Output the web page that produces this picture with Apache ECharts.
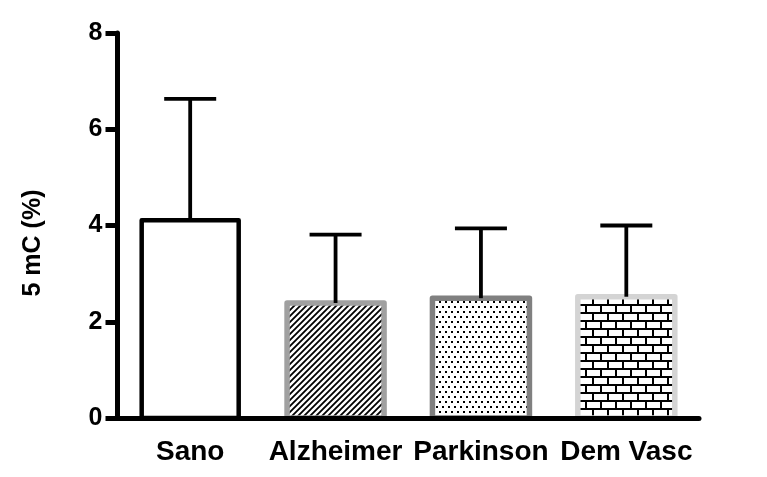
<!DOCTYPE html>
<html>
<head>
<meta charset="utf-8">
<script src="https://cdn.jsdelivr.net/npm/echarts@6/dist/echarts.min.js"></script>
<style>html,body{margin:0;padding:0;background:#fff}#c{width:767px;height:477px}</style>
</head>
<body>
<div id="c"></div>
<script>
// ---- data ----
var categories = ['Sano', 'Alzheimer', 'Parkinson', 'Dem Vasc'];
var means = [4.11, 2.39, 2.49, 2.52];
var sd = [2.52, 1.42, 1.45, 1.48];
var yTicks = [0, 2, 4, 6, 8];
var yTitle = '5 mC (%)';

// ---- patterns ----
function mk(w, h, draw) {
  var c = document.createElement('canvas');
  c.width = w; c.height = h;
  var g = c.getContext('2d');
  g.fillStyle = '#fff'; g.fillRect(0, 0, w, h);
  draw(g);
  return c;
}
var hatch = mk(6, 6, function (g) {
  g.strokeStyle = '#000'; g.lineWidth = 1.8;
  g.beginPath();
  g.moveTo(-1, 7); g.lineTo(7, -1);
  g.moveTo(-4, 4); g.lineTo(4, -4);
  g.moveTo(2, 10); g.lineTo(10, 2);
  g.stroke();
});
var dots = mk(6, 10, function (g) {
  g.fillStyle = '#000';
  g.fillRect(1, 1, 2, 2);
  g.fillRect(4, 6, 2, 2);
});
var bricks = mk(30, 16, function (g) {
  g.fillStyle = '#000';
  g.fillRect(0, 0, 30, 2);
  g.fillRect(0, 8, 30, 2);
  g.fillRect(0, 2, 2, 6);
  g.fillRect(15, 2, 2, 6);
  g.fillRect(7, 10, 2, 6);
  g.fillRect(22, 10, 2, 6);
});

var styles = [
  { fill: '#ffffff', stroke: '#000000', lineWidth: 4.5 },
  { fill: { image: hatch, repeat: 'repeat' }, stroke: '#a0a0a0', lineWidth: 5.5 },
  { fill: { image: dots, repeat: 'repeat' }, stroke: '#808080', lineWidth: 5.5 },
  { fill: { image: bricks, repeat: 'repeat' }, stroke: '#d4d4d4', lineWidth: 5.5 }
];

var barData = means.map(function (v, i) { return [i, v]; });
var errData = means.map(function (v, i) { return [i, v, v + sd[i]]; });

var font = '"Liberation Sans", Arial, sans-serif';
var chart = echarts.init(document.getElementById('c'), null, { renderer: 'canvas' });
chart.setOption({
  animation: false,
  backgroundColor: '#fff',
  grid: { left: 117.5, top: 33, right: 68, bottom: 59, containLabel: false },
  xAxis: {
    type: 'category',
    data: categories,
    z: 10,
    axisLine: { lineStyle: { color: '#000', width: 5 } },
    axisTick: { alignWithLabel: true, length: 13, lineStyle: { color: '#000', width: 5 } },
    axisLabel: { interval: 0, margin: 20, color: '#000', fontFamily: font, fontWeight: 'bold', fontSize: 28 }
  },
  yAxis: {
    type: 'value',
    min: yTicks[0], max: yTicks[yTicks.length - 1], interval: 2,
    z: 10,
    splitLine: { show: false },
    axisLine: { show: true, lineStyle: { color: '#000', width: 5 } },
    axisTick: { show: true, length: 12, lineStyle: { color: '#000', width: 5 } },
    axisLabel: { margin: 15, color: '#000', fontFamily: font, fontWeight: 'bold', fontSize: 25 }
  },
  graphic: [{
    type: 'text',
    x: 33, y: 243,
    rotation: Math.PI / 2,
    style: { text: yTitle, fill: '#000', font: 'bold 25px ' + font, align: 'center', verticalAlign: 'middle' }
  }],
  series: [
    {
      type: 'custom', z: 2,
      data: barData,
      renderItem: function (params, api) {
        var i = api.value(0);
        var top = api.coord([i, api.value(1)]);
        var base = api.coord([i, 0]);
        var w = 97;
        var s = styles[params.dataIndex];
        return {
          type: 'rect',
          shape: { x: top[0] - w / 2, y: top[1], width: w, height: base[1] - top[1] },
          style: { fill: s.fill, stroke: s.stroke, lineWidth: s.lineWidth, lineJoin: 'round' }
        };
      }
    },
    {
      type: 'custom', z: 5,
      data: errData,
      renderItem: function (params, api) {
        var x = api.value(0);
        var p0 = api.coord([x, api.value(1)]);
        var p1 = api.coord([x, api.value(2)]);
        var hw = 26;
        var st = { stroke: '#000', lineWidth: 3.8 };
        return {
          type: 'group',
          children: [
            { type: 'line', shape: { x1: p0[0], y1: p0[1], x2: p1[0], y2: p1[1] }, style: st },
            { type: 'line', shape: { x1: p1[0] - hw, y1: p1[1], x2: p1[0] + hw, y2: p1[1] }, style: st }
          ]
        };
      }
    }
  ]
});
</script>
</body>
</html>
